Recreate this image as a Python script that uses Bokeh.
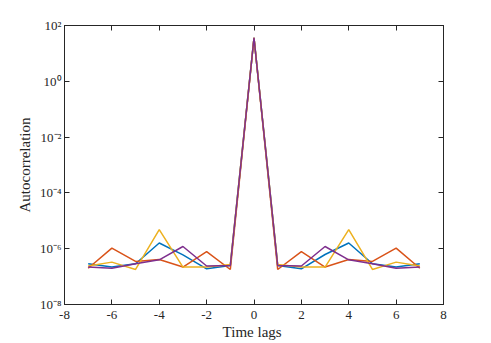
from bokeh.plotting import figure
from bokeh.models import LogAxis, LinearAxis, FixedTicker, Range1d
from bokeh.embed import file_html
from bokeh.resources import INLINE

lags = [-7, -6, -5, -4, -3, -2, -1, 0, 1, 2, 3, 4, 5, 6, 7]
blue = [2.9e-7, 2.2e-7, 2.9e-7, 1.6e-6, 6.0e-7, 1.9e-7, 2.5e-7, 36,
        2.5e-7, 1.9e-7, 6.2e-7, 1.6e-6, 2.9e-7, 2.2e-7, 2.9e-7]
orange = [2.0e-7, 1.05e-6, 3.5e-7, 4.1e-7, 2.2e-7, 7.9e-7, 1.8e-7, 36,
          1.8e-7, 7.9e-7, 2.2e-7, 4.1e-7, 3.5e-7, 1.05e-6, 2.0e-7]
yellow = [2.4e-7, 3.3e-7, 1.8e-7, 4.8e-6, 2.2e-7, 2.2e-7, 2.7e-7, 36,
          2.7e-7, 2.2e-7, 2.2e-7, 4.8e-6, 1.8e-7, 3.3e-7, 2.4e-7]
purple = [2.2e-7, 2.0e-7, 2.9e-7, 4.0e-7, 1.2e-6, 2.4e-7, 2.5e-7, 36,
          2.5e-7, 2.4e-7, 1.2e-6, 4.0e-7, 2.9e-7, 2.0e-7, 2.2e-7]

series = [(blue, "#0072BD"), (orange, "#D95319"), (yellow, "#EDB120"), (purple, "#7E2F8E")]

x_ticks = [-8, -6, -4, -2, 0, 2, 4, 6, 8]
x_tick_labels = ["-8", "-6", "-4", "-2", "0", "2", "4", "6", "8"]
y_ticks = [1e-8, 1e-6, 1e-4, 1e-2, 1e0, 1e2]
y_tick_labels = ["10⁻⁸", "10⁻⁶", "10⁻⁴", "10⁻²", "10⁰", "10²"]

FONT = "Liberation Serif"
AX = "#262626"

p = figure(width=491, height=343, y_axis_type="log",
           x_range=Range1d(-8, 8), y_range=Range1d(1e-8, 1e2),
           output_backend="svg", toolbar_location=None,
           min_border_left=64, min_border_right=48,
           min_border_top=25, min_border_bottom=39)
p.xgrid.visible = False
p.ygrid.visible = False
p.outline_line_color = AX
p.background_fill_color = "white"
p.border_fill_color = "white"

for vals, col in series:
    p.line(lags, vals, line_color=col, line_width=1.5)

def style(ax):
    ax.axis_line_color = AX
    ax.major_tick_line_color = AX
    ax.major_tick_in = 5
    ax.major_tick_out = 0
    ax.minor_tick_line_color = None
    ax.major_label_text_font = FONT
    ax.major_label_text_font_size = "13px"
    ax.major_label_text_color = AX
    ax.axis_label_text_font = FONT
    ax.axis_label_text_font_size = "15px"
    ax.axis_label_text_font_style = "normal"
    ax.axis_label_text_color = AX

xa = p.xaxis[0]
xa.ticker = FixedTicker(ticks=x_ticks)
xa.major_label_overrides = {t: l for t, l in zip(x_ticks, x_tick_labels)}
xa.axis_label = "Time  lags"
xa.major_label_standoff = 6
xa.axis_label_standoff = 2
style(xa)

ya = p.yaxis[0]
ya.ticker = FixedTicker(ticks=y_ticks)
ya.major_label_overrides = {t: l for t, l in zip(y_ticks, y_tick_labels)}
ya.axis_label = "Autocorrelation"
ya.major_label_standoff = 3
ya.axis_label_standoff = 4
style(ya)

top = LinearAxis(ticker=FixedTicker(ticks=x_ticks), major_label_text_font_size="0px")
style(top)
top.major_label_text_color = None
p.add_layout(top, "above")

right = LogAxis(ticker=FixedTicker(ticks=y_ticks), major_label_text_font_size="0px")
style(right)
right.major_label_text_color = None
p.add_layout(right, "right")

open("out.html", "w").write(file_html(p, INLINE))
